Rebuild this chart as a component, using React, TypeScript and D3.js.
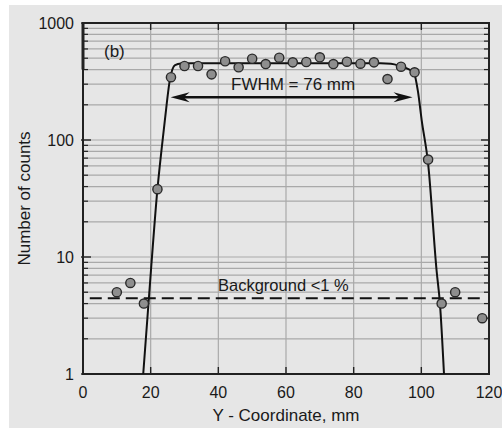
import React from "react";
import * as d3 from "d3";

const posY: number[] = [10, 14, 18, 22, 26, 30, 34, 38, 42, 46, 50, 54, 58, 62, 66, 70, 74, 78, 82, 86, 90, 94, 98, 102, 106, 110, 118];
const counts: number[] = [5, 6, 4, 38, 344, 429, 429, 364, 471, 418, 495, 446, 505, 461, 464, 509, 446, 467, 449, 461, 332, 423, 379, 68, 4, 5, 3];

const fitX: number[] = [17.8, 20.2, 22, 23.2, 24.2, 25.7, 27.2, 29, 32, 60, 88, 91, 93.6, 96, 97.8, 99, 100.1, 102, 104.5, 105.5, 106.7];
const fitY: number[] = [1, 8.5, 38, 82, 148, 330, 437, 451, 453, 453, 452, 448, 430, 405, 375, 260, 148, 63, 7.7, 4, 1];

const xTicks: number[] = [0, 20, 40, 60, 80, 100, 120];
const yTicks: number[] = [1, 10, 100, 1000];
const background = 4.45;
const fwhm = { from: 25.9, to: 97.4, level: 232, label: "FWHM = 76 mm" };

const W = 502, H = 429;
const M = { left: 83, right: 489, top: 23, bottom: 374 };
const FONT = "'Liberation Sans', Arial, Helvetica, sans-serif";

export default function App() {
  const x = d3.scaleLinear().domain([0, 120]).range([M.left, M.right]);
  const y = d3.scaleLog().domain([1, 1000]).range([M.bottom, M.top]);

  const minor: number[] = [];
  [1, 10, 100].forEach((d) => {
    for (let k = 2; k <= 9; k++) minor.push(d * k);
  });

  const line = d3
    .line<number>()
    .x((_, i) => x(fitX[i]))
    .y((_, i) => y(fitY[i]))
    .curve(d3.curveMonotoneX);
  const fitPath = line(fitX) || "";

  const ay = y(fwhm.level);
  const ax1 = x(fwhm.from);
  const ax2 = x(fwhm.to);
  const head = (tip: number, dir: number) =>
    `M${tip},${ay} L${tip + dir * 19},${ay - 5} L${tip + dir * 13},${ay} L${tip + dir * 19},${ay + 5} Z`;

  const txt = "#1a1a1a";
  return (
    <svg width={W} height={H} style={{ position: "absolute", left: 0, top: 0, background: "#fff" }}>
      <rect x={9} y={5} width={493} height={423} fill="#e6e6e6" />
      {/* grid */}
      {[...minor, 10, 100].map((d, i) => (
        <line key={"gy" + i} x1={M.left} x2={M.right} y1={y(d)} y2={y(d)} stroke="#a9a9a9" strokeWidth={1.2} />
      ))}
      {xTicks.slice(1, -1).map((d, i) => (
        <line key={"gx" + i} x1={x(d)} x2={x(d)} y1={M.top} y2={M.bottom} stroke="#a9a9a9" strokeWidth={1.2} />
      ))}
      {/* ticks */}
      {minor.map((d, i) => (
        <g key={"mt" + i}>
          <line x1={M.left} x2={M.left + 5} y1={y(d)} y2={y(d)} stroke="#222" strokeWidth={1.2} />
          <line x1={M.right} x2={M.right - 5} y1={y(d)} y2={y(d)} stroke="#222" strokeWidth={1.2} />
        </g>
      ))}
      {yTicks.map((d, i) => (
        <g key={"yt" + i}>
          <line x1={M.left - 2} x2={M.left + 8} y1={y(d)} y2={y(d)} stroke="#222" strokeWidth={1.4} />
          <line x1={M.right} x2={M.right - 8} y1={y(d)} y2={y(d)} stroke="#222" strokeWidth={1.4} />
          <text x={M.left - 9} y={y(d)} dy="0.35em" textAnchor="end" fontFamily={FONT} fontSize={16} fill={txt}>
            {d}
          </text>
        </g>
      ))}
      {xTicks.map((d, i) => (
        <g key={"xt" + i}>
          <line x1={x(d)} x2={x(d)} y1={M.bottom} y2={M.bottom - 7} stroke="#222" strokeWidth={1.4} />
          <line x1={x(d)} x2={x(d)} y1={M.top} y2={M.top + 7} stroke="#222" strokeWidth={1.4} />
          <text x={x(d)} y={398} textAnchor="middle" fontFamily={FONT} fontSize={16} fill={txt}>
            {d}
          </text>
        </g>
      ))}
      {/* frame */}
      <rect x={M.left} y={M.top} width={M.right - M.left} height={M.bottom - M.top} fill="none" stroke="#222" strokeWidth={2} />
      <line x1={M.left} x2={M.left} y1={M.top} y2={y(400)} stroke="#222" strokeWidth={3} />
      {/* background dashed */}
      <line x1={x(2)} x2={x(117.3)} y1={y(background)} y2={y(background)} stroke="#111" strokeWidth={2} strokeDasharray="12,6" />
      {/* fit */}
      <path d={fitPath} fill="none" stroke="#111" strokeWidth={2} />
      {/* points */}
      {posY.map((d, i) => (
        <circle key={"p" + i} cx={x(d)} cy={y(counts[i])} r={4.6} fill="#8e8e8e" stroke="#2a2a2a" strokeWidth={1.4} />
      ))}
      {/* FWHM arrow */}
      <line x1={ax1 + 12} x2={ax2 - 12} y1={ay} y2={ay} stroke="#111" strokeWidth={2.4} />
      <path d={head(ax1, 1)} fill="#111" />
      <path d={head(ax2, -1)} fill="#111" />
      <text x={231} y={90} fontFamily={FONT} fontSize={17} fill={txt}>
        {fwhm.label}
      </text>
      <text x={104} y={57} fontFamily={FONT} fontSize={17} fill={txt}>
        (b)
      </text>
      <text x={218} y={291} fontFamily={FONT} fontSize={16.5} fill={txt}>
        Background &lt;1 %
      </text>
      {/* titles */}
      <text x={(M.left + M.right) / 2} y={421} textAnchor="middle" fontFamily={FONT} fontSize={17} fill={txt}>
        Y - Coordinate, mm
      </text>
      <text
        transform={`translate(30,${(M.top + M.bottom) / 2}) rotate(-90)`}
        textAnchor="middle"
        fontFamily={FONT}
        fontSize={17}
        fill={txt}
      >
        Number of counts
      </text>
    </svg>
  );
}
